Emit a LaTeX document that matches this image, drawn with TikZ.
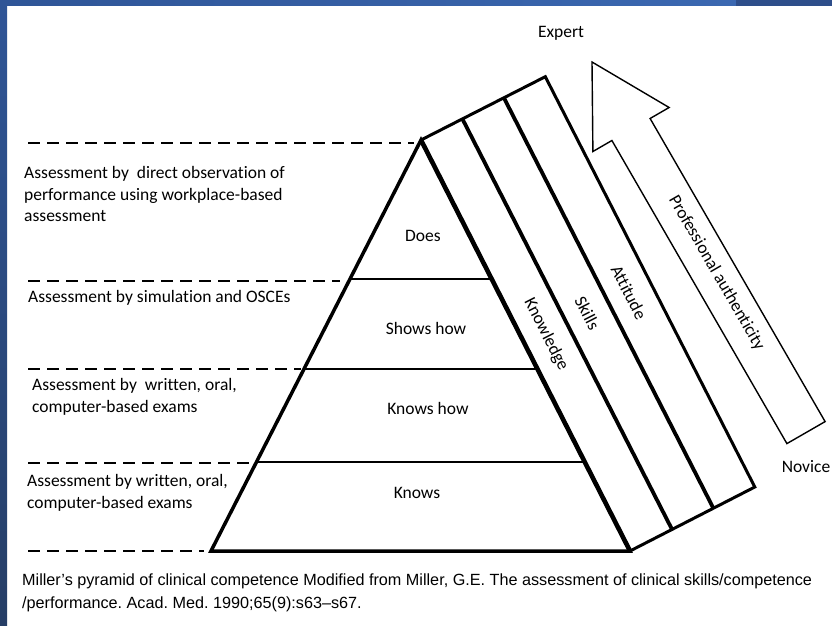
\documentclass[tikz,border=0pt]{standalone}
\usepackage{fontspec}
\setmainfont{Carlito}[Ligatures={TeX,NoCommon}]
\newfontfamily\capfont{Liberation Sans}[Ligatures=TeX]
\frenchspacing
\definecolor{blueA}{HTML}{2F5597}
\definecolor{blueB}{HTML}{3B68B1}
\definecolor{blueC}{HTML}{2E4E8A}
\definecolor{blueD}{HTML}{263E66}
\begin{document}
\begin{tikzpicture}[x=1pt,y=-1pt,
  lbl/.style={font=\fontsize{17.5}{21.5}\selectfont, inner sep=0pt},
  lefttext/.style={lbl, anchor=west, align=left},
  dashline/.style={line width=2.4pt, dash pattern=on 12pt off 7pt},
  levelline/.style={line width=1.5pt},
  edgeline/.style={line width=3.5pt, line join=miter},
  bandline/.style={line width=3.8pt},
  bigarrow/.style={line width=1.4pt, line join=miter},
]
\useasboundingbox (0,0) rectangle (832,626);
\fill[white] (0,0) rectangle (832,626);
% slide frame
\shade[left color=blueA, right color=blueB] (0,0) rectangle (736,6);
\fill[blueC] (736,0) rectangle (832,6);
\shade[top color=blueA, bottom color=blueD] (0,0) rectangle (7,626);

% pyramid corner points
\coordinate (A) at (421,140);
\coordinate (BL) at (211,551);
\coordinate (BR) at (630,551);
\coordinate (T1) at (462.4,118.9);
\coordinate (T2) at (503.9,97.8);
\coordinate (T3) at (545.3,76.7);
\coordinate (B1) at (671.9,529.2);
\coordinate (B2) at (713.3,508.1);
\coordinate (B3) at (754.8,487.0);

% level lines
\coordinate (L1a) at (350,279);  \coordinate (L1b) at (491,279);
\coordinate (L2a) at (304,369);  \coordinate (L2b) at (537,369);
\coordinate (L3a) at (256.5,462); \coordinate (L3b) at (584.5,462);
\draw[levelline] (L1a) -- (L1b);
\draw[levelline] (L2a) -- (L2b);
\draw[levelline] (L3a) -- (L3b);

% dashed guide lines
\coordinate (D0a) at (28,143); \coordinate (D0b) at (414,143);
\coordinate (D1a) at (28,281); \coordinate (D1b) at (340,281);
\coordinate (D2a) at (28,369); \coordinate (D2b) at (301,369);
\coordinate (D3a) at (28,463); \coordinate (D3b) at (251,463);
\coordinate (D4a) at (28,551); \coordinate (D4b) at (204,551);
\draw[dashline] (D0a) -- (D0b);
\draw[dashline] (D1a) -- (D1b);
\draw[dashline] (D2a) -- (D2b);
\draw[dashline] (D3a) -- (D3b);
\draw[dashline] (D4a) -- (D4b);

% bands
\draw[line width=3pt, line join=miter] (A) -- (T3) -- (B3) -- (BR);
\draw[bandline] (T1) -- (B1);
\draw[bandline] (T2) -- (B2);
% pyramid outline
\draw[edgeline] (BR) -- (A) -- (BL) -- cycle;
\draw[line width=4.6pt] (A) -- (BR);

% big hollow arrow
\coordinate (tip) at (592,62);
\coordinate (barbL) at (592.9,151.5);
\coordinate (notchL) at (611.9,140.5);
\coordinate (baseL) at (786.9,443.6);
\coordinate (baseR) at (825.1,421.6);
\coordinate (notchR) at (650.1,118.5);
\coordinate (barbR) at (669.1,107.5);
\draw[bigarrow] (tip) -- (barbL) -- (notchL) -- (baseL) -- (baseR) -- (notchR) -- (barbR) -- cycle;

% labels
\node[lbl] (expert) at (561,33) {Expert};
\node[lbl] (novice) at (806,467) {Novice};
\node[lbl, rotate=-60] (prof) at (716.5,273) {Professional authenticity};
\node[lbl, rotate=-63] (know) at (546,334.5) {Knowledge};
\node[lbl, rotate=-63] (skills) at (587.5,313.4) {Skills};
\node[lbl, rotate=-63] (att) at (628.9,292.3) {Attitude};

\node[lbl] (does) at (423,236) {Does};
\node[lbl] (shows) at (426,328) {Shows how};
\node[lbl] (knowshow) at (428,408) {Knows how};
\node[lbl] (knows) at (417,493) {Knows};

\node[lefttext] (t1) at (24,194) {Assessment by\ \ direct observation of\\performance using workplace-based\\assessment};
\node[lefttext] (t2) at (28,298) {Assessment by simulation and OSCEs};
\node[lefttext] (t3) at (32,397) {Assessment by\ \ written, oral,\\computer-based exams};
\node[lefttext] (t4) at (27,493) {Assessment by written, oral,\\computer-based exams};

\node[anchor=west, align=left, inner sep=0pt, font=\capfont\fontsize{16.2}{22.5}\selectfont] (cap) at (22,593) {Miller's pyramid of clinical competence Modified from Miller, G.E. The assessment of clinical skills/competence\\/performance. Acad. Med. 1990;65(9):s63--s67.};
\end{tikzpicture}
\end{document}
